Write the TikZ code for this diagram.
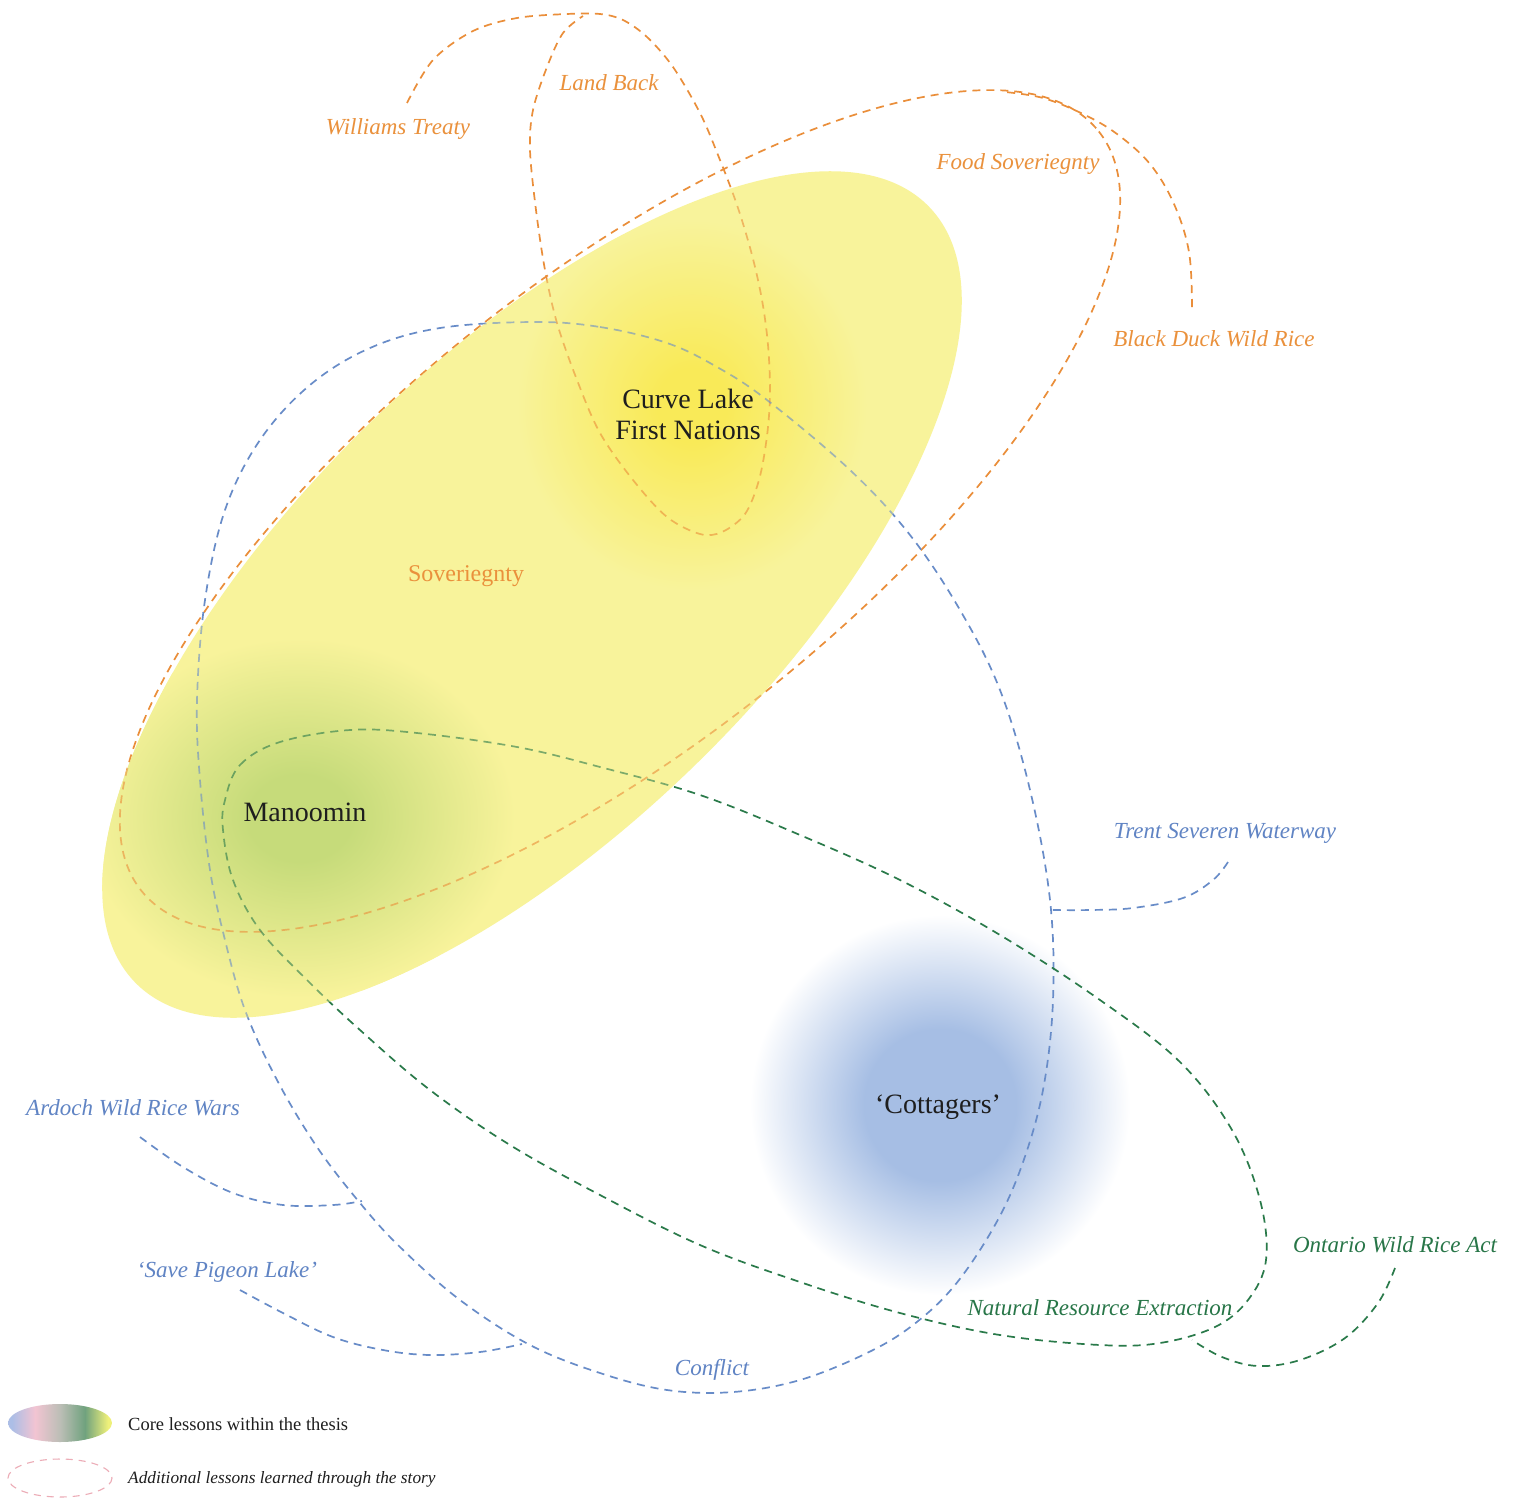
\documentclass[tikz,border=0pt]{standalone}
\usepackage{fontspec}
\setmainfont{Liberation Serif}
\usetikzlibrary{calc}

% palette
\definecolor{yBase}{RGB}{248,243,155}
\definecolor{ySpot}{RGB}{249,234,88}
\definecolor{gSpot}{RGB}{198,219,122}
\definecolor{bSpot}{RGB}{166,190,228}
\definecolor{orangeL}{RGB}{234,142,58}
\definecolor{blueL}{RGB}{104,140,200}
\definecolor{greenL}{RGB}{42,122,74}
\definecolor{orangeT}{RGB}{234,145,60}
\definecolor{blueT}{RGB}{96,132,196}
\definecolor{greenT}{RGB}{40,118,72}
\definecolor{darkT}{RGB}{30,30,30}
\definecolor{legBlue}{RGB}{172,190,230}
\definecolor{legPink}{RGB}{242,196,210}
\definecolor{legGrey}{RGB}{188,190,182}
\definecolor{legGreen}{RGB}{112,162,126}
\definecolor{legYellow}{RGB}{238,240,122}
\definecolor{legDash}{RGB}{236,172,182}

% soft spots (central 25bp radius maps to the shaded path's edge)
\pgfdeclareradialshading{yellowspot}{\pgfpointorigin}{color(0bp)=(ySpot); color(5bp)=(ySpot); color(25bp)=(yBase); color(50bp)=(yBase)}
\pgfdeclareradialshading{greenspot}{\pgfpointorigin}{color(0bp)=(gSpot); color(6bp)=(gSpot); color(25bp)=(yBase); color(50bp)=(yBase)}
\pgfdeclareradialshading{bluespot}{\pgfpointorigin}{color(0bp)=(bSpot); color(10bp)=(bSpot); color(25bp)=(white); color(50bp)=(white)}
\pgfdeclarehorizontalshading{legendgrad}{100bp}{color(0bp)=(legBlue); color(27bp)=(legBlue); color(38bp)=(legPink); color(50bp)=(legGrey); color(62bp)=(legGreen); color(73bp)=(legYellow); color(100bp)=(legYellow)}

% curve paths (drawn twice: full strength, then softened under the yellow field)
\newcommand\pathLandBack{plot[smooth, tension=0.55] coordinates {(407,103) (433,60) (473,31) (517,18) (567,14) (600,14) (623,20) (647,37) (673,67) (700,113) (718,155) (737,205) (752,255) (762,300) (768,345) (770,393) (767,436) (759,480) (745,514) (722,532) (700,534) (667,517) (633,480) (600,433) (577,380) (557,323) (545,270) (536,210) (530,150) (533,110) (547,67) (563,33) (583,16)}}
\newcommand\pathFoodSov{[rotate around={38.4:(620,511)}] (620,511) ellipse [x radius=611, y radius=232]}
\newcommand\pathBlackDuck{plot[smooth, tension=0.6] coordinates {(1192,307) (1189,252) (1174,204) (1150,164) (1117,134) (1083,114) (1043,98) (1005,92)}}
\newcommand\pathBlueLoop{plot[smooth cycle, tension=0.6] coordinates {(533,322) (600,327) (667,343) (717,367) (767,400) (850,470) (910,535) (960,610) (1000,690) (1030,790) (1050,900) (1053,1000) (1043,1090) (1022,1165) (995,1225) (955,1285) (913,1325) (867,1353) (800,1380) (733,1392) (667,1390) (600,1373) (530,1345) (460,1300) (400,1247) (360,1203) (317,1147) (277,1080) (245,1010) (225,940) (210,870) (200,780) (197,700) (205,600) (225,510) (260,440) (310,385) (370,348) (440,328)}}
\newcommand\pathTrent{plot[smooth, tension=0.6] coordinates {(1228,862) (1213,880) (1183,898) (1133,908) (1090,910) (1052,910)}}
\newcommand\pathArdoch{plot[smooth, tension=0.6] coordinates {(140,1137) (183,1167) (233,1193) (283,1205) (333,1205) (362,1201)}}
\newcommand\pathPigeon{plot[smooth, tension=0.6] coordinates {(240,1290) (283,1313) (333,1337) (383,1350) (430,1355) (480,1352) (522,1344)}}
\newcommand\pathGreenLoop{plot[smooth cycle, tension=0.6] coordinates {(225,800) (240,765) (280,742) (350,730) (417,733) (517,747) (600,767) (700,795) (800,835) (900,880) (1000,935) (1100,1000) (1180,1062) (1232,1130) (1260,1200) (1266,1260) (1248,1300) (1215,1327) (1160,1343) (1100,1345) (1000,1335) (900,1313) (800,1282) (700,1245) (600,1195) (510,1145) (430,1090) (360,1030) (307,980) (260,930) (233,880) (223,830)}}
\newcommand\pathOntario{plot[smooth, tension=0.6] coordinates {(1395,1268) (1378,1303) (1345,1338) (1300,1360) (1258,1366) (1222,1357) (1192,1340)}}
\newcommand\pathYellowField{[rotate around={44.37:(532,594.5)}] (532,594.5) ellipse [x radius=555, y radius=236]}

\newcommand\drawAllCurves{%
  \draw[lesson, orangeL] \pathLandBack;
  \draw[lesson, orangeL] \pathFoodSov;
  \draw[lesson, orangeL] \pathBlackDuck;
  \draw[lesson, blueL] \pathBlueLoop;
  \draw[lesson, blueL] \pathTrent;
  \draw[lesson, blueL] \pathArdoch;
  \draw[lesson, blueL] \pathPigeon;
  \draw[lesson, greenL] \pathGreenLoop;
  \draw[lesson, greenL] \pathOntario;
}

\begin{document}
\begin{tikzpicture}[x=1pt, y=-1pt,
  lesson/.style={line width=1.7pt, dash pattern=on 8pt off 6pt},
  lbl/.style={font=\fontsize{23}{27}\selectfont\itshape, inner sep=0pt, anchor=center},
  core/.style={font=\fontsize{28}{33}\selectfont, text=darkT, inner sep=0pt, align=center},
  legtxt/.style={font=\fontsize{18.5}{22}\selectfont, text=darkT, inner sep=0pt, anchor=west}]

\useasboundingbox (0,0) rectangle (1517,1499);
\fill[white] (0,0) rectangle (1517,1499);

% blue core field behind the lines
\shade[shading=bluespot] (940,1105) circle (190);

% lesson curves, full strength
\drawAllCurves

% yellow core field with its two soft centres
\fill[yBase] \pathYellowField;
\begin{scope}
  \clip \pathYellowField;
  \shade[shading=yellowspot] (692,405) ellipse [x radius=175, y radius=185];
  \shade[shading=greenspot] (300,818) ellipse [x radius=215, y radius=180];
  % curves seen through the yellow field
  \begin{scope}[opacity=0.6]
    \drawAllCurves
  \end{scope}
\end{scope}

% labels
\node[lbl, text=orangeT] (williams) at (398,129) {Williams Treaty};
\node[lbl, text=orangeT] (landback) at (609,83) {Land Back};
\node[lbl, text=orangeT] (foodsov) at (1018,164) {Food Soveriegnty};
\node[lbl, text=orangeT] (blackduck) at (1214,339) {Black Duck Wild Rice};
\node[font=\fontsize{24}{28}\selectfont, text=orangeT, inner sep=0pt] (sov) at (466,576) {Soveriegnty};
\node[core] (curvelake) at (688,414) {Curve Lake\\[-2pt]First Nations};
\node[core] (manoomin) at (305,812) {Manoomin};
\node[core] (cottagers) at (938,1107) {‘Cottagers’};
\node[lbl, text=blueT] (trent) at (1225,833) {Trent Severen Waterway};
\node[lbl, text=blueT] (ardoch) at (133,1108) {Ardoch Wild Rice Wars};
\node[lbl, text=blueT] (pigeon) at (227,1272) {‘Save Pigeon Lake’};
\node[lbl, text=blueT] (conflict) at (712,1370) {Conflict};
\node[lbl, text=greenT] (nre) at (1100,1308) {Natural Resource Extraction};
\node[lbl, text=greenT] (ontario) at (1395,1245) {Ontario Wild Rice Act};

% legend
\shade[shading=legendgrad] (60,1423) ellipse [x radius=52, y radius=19];
\node[legtxt] (legcore) at (128,1424) {Core lessons within the thesis};
\draw[legDash, line width=1.1pt, dash pattern=on 7pt off 6pt] (60,1478) ellipse [x radius=52, y radius=19];
\node[legtxt, font=\fontsize{17.3}{21}\selectfont\itshape] (legadd) at (128,1479) {Additional lessons learned through the story};
\end{tikzpicture}
\end{document}
